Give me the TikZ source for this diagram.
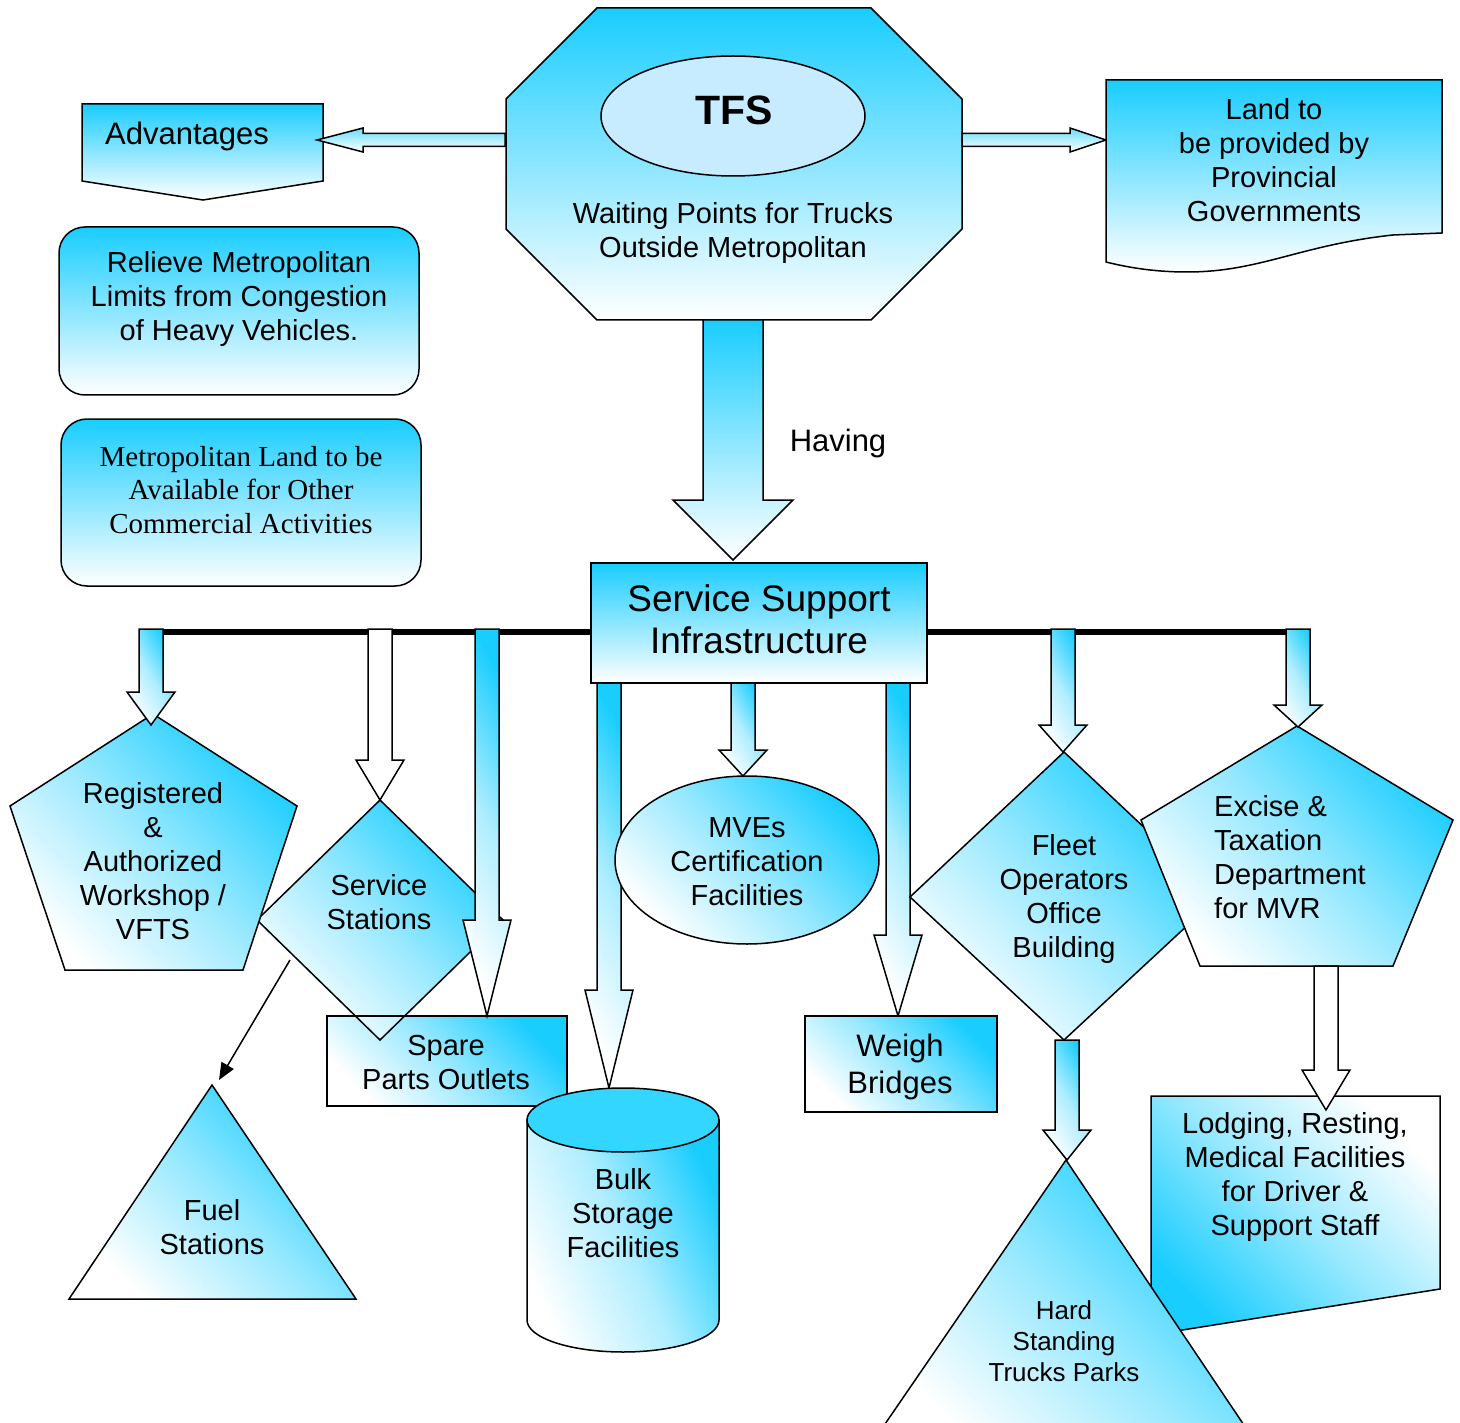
\documentclass[tikz,border=0pt]{standalone}
\usepackage{fontspec}
\setmainfont{Liberation Sans}
\newfontfamily\serifx{Liberation Serif}
\usetikzlibrary{arrows.meta}
\definecolor{cy}{RGB}{25,205,255}
\definecolor{cylight}{RGB}{200,236,255}
\definecolor{cytop}{RGB}{50,214,255}
\tikzset{
  shp/.style={draw=black, line width=1.5pt, line join=miter},
  vgrad/.style={top color=cy, bottom color=white},
  dgrad/.style={top color=cy, bottom color=white, middle color=cy!45, shading angle=-45},
  lgrad/.style={top color=white, bottom color=cy, middle color=cy!45, shading angle=-45},
  agrad/.style={top color=cy, bottom color=white, middle color=cy!35, shading angle=-60},
  hgrad/.style={top color=cy!65, bottom color=white},
  cgrad/.style={top color=cy, bottom color=white, middle color=cy!35, shading angle=-65},
  wfill/.style={fill=white},
  txt/.style={font=\fontsize{29}{34}\selectfont, align=center, inner sep=0pt},
}
\newcommand\vbarrowx[6]{% style, x, ytop, yhead, ytip, shaft half
  \path[shp,#1] ({#2-#6},#3) -- ({#2+#6},#3) -- ({#2+#6},#4) -- ({#2+2*#6},#4) -- (#2,#5)
    -- ({#2-2*#6},#4) -- ({#2-#6},#4) -- cycle;}
\newcommand\hbarrowx[5]{% style, xstart, xhead, xtip, y
  \path[shp,#1] (#2,{#5-6.5}) -- (#3,{#5-6.5}) -- (#3,{#5-12}) -- (#4,#5) -- (#3,{#5+12})
    -- (#3,{#5+6.5}) -- (#2,{#5+6.5}) -- cycle;}
\begin{document}
\begin{tikzpicture}[x=1pt,y=-1pt]
\clip (0,0) rectangle (1460,1423);
\fill[white] (0,0) rectangle (1460,1423);

% thick bus line
\coordinate (busL) at (151,632);
\coordinate (busR) at (1308,632);
\draw[line width=6.5pt] (busL) -- (busR);

% Advantages
\path[shp,vgrad] (82,104) -- (323,104) -- (323,181) -- (203,200) -- (82,181) -- cycle;
\node[txt,font=\fontsize{31}{36}\selectfont] (adv) at (187,136) {Advantages};

% TFS octagon
\path[shp,vgrad] (597,8) -- (871,8) -- (962,99) -- (962,229) -- (871,320) -- (597,320) -- (506,229) -- (506,99) -- cycle;
\path[shp,fill=cylight] (733,116) ellipse [x radius=132, y radius=60];
\node[inner sep=0pt,font=\fontsize{41}{44}\selectfont\bfseries] (tfs) at (734,110) {TFS};
\node[txt] (wait) at (733,233) {Waiting Points for Trucks\\Outside Metropolitan};

% horizontal arrows
\hbarrowx{hgrad}{505}{363}{317}{140}
\hbarrowx{hgrad}{962}{1070}{1106}{140}

% Land document
\path[shp,vgrad] (1106,80) -- (1442,80) -- (1442,233) -- (1393,235)
  .. controls (1300,245) and (1260,272) .. (1187,272)
  .. controls (1150,272) and (1122,266) .. (1106,262) -- cycle;
\node[txt] (land) at (1274,160) {Land to\\be provided by\\Provincial\\Governments};

% Relieve box
\path[shp,vgrad,rounded corners=26pt] (59,227) rectangle (419,395);
\node[txt] (rel) at (239,299) {Relieve Metropolitan\\Limits from Congestion\\of Heavy Vehicles.};

% Metropolitan land box
\path[shp,vgrad,rounded corners=26pt] (61,419) rectangle (421,586);
\node[txt,font=\serifx\fontsize{29}{33.5}\selectfont] (metro) at (241,490) {Metropolitan Land to be\\Available for Other\\Commercial Activities};

% Having arrow
\vbarrowx{vgrad}{733}{320}{500}{560}{30}
\node[inner sep=0pt,font=\fontsize{31}{36}\selectfont] (having) at (838,443) {Having};

% Service support box
\path[shp,vgrad] (591,563) rectangle (927,683);
\node[txt,font=\fontsize{37}{42}\selectfont] (ssi) at (759,619) {Service Support\\Infrastructure};

% Spare parts box + service stations diamond
\path[shp,dgrad] (327,1016) rectangle (567,1106);
\path[shp,dgrad] (380,800) -- (503,920) -- (380,1040) -- (257,920) -- cycle;
\draw[line width=1.5pt] (327,1016) -- (567,1016);
\node[txt] (spare) at (446,1063) {Spare\\Parts Outlets};
\node[txt] (ss) at (379,902) {Service\\Stations};

% Registered pentagon
\path[shp,dgrad] (153,714) -- (297,806) -- (243,970) -- (65,970) -- (10,806) -- cycle;
\node[txt] (reg) at (153,861) {Registered\\\&\\Authorized\\Workshop /\\VFTS};

\vbarrowx{agrad}{151}{629}{692}{725}{12}
\vbarrowx{wfill}{380}{629}{760}{800}{12}
\vbarrowx{agrad}{487}{629}{920}{1016}{12}

% Fuel
\path[shp,dgrad] (212,1085) -- (356,1299) -- (69,1299) -- cycle;
\node[txt] (fuel) at (212,1227) {Fuel\\Stations};
\coordinate (fs) at (290,960);
\coordinate (fe) at (219,1080);
\draw[line width=1.5pt,-{Triangle[length=17pt,width=14pt]}] (fs) -- (fe);

% Bulk storage
\vbarrowx{agrad}{609}{683}{990}{1088}{12}
\path[shp,cgrad] (527,1120) -- (527,1320) arc[start angle=180, end angle=0, x radius=96, y radius=32] -- (719,1120) -- cycle;
\path[shp,fill=cytop] (623,1120) ellipse [x radius=96, y radius=32];
\node[txt] (bulk) at (623,1213) {Bulk\\Storage\\Facilities};

% MVEs
\path[shp,dgrad] (747,860) ellipse [x radius=132, y radius=84];
\node[txt] (mves) at (747,862) {MVEs\\Certification\\Facilities};
\vbarrowx{agrad}{743}{683}{750}{776}{12}

% Weigh bridges
\vbarrowx{agrad}{898}{683}{935}{1016}{12}
\path[shp,dgrad] (805,1016) rectangle (997,1112);
\node[txt,font=\fontsize{31}{37}\selectfont] (weigh) at (900,1067) {Weigh\\Bridges};

% Fleet diamond and Excise pentagon
\path[shp,dgrad] (1064,752) -- (1218,897) -- (1064,1040) -- (910,897) -- cycle;
\node[txt] (fleet) at (1064,899) {Fleet\\Operators\\Office\\Building};
\path[shp,dgrad] (1297,726) -- (1453,820) -- (1393,966) -- (1200,966) -- (1141,820) -- cycle;
\node[txt,align=left,anchor=west] (excise) at (1214,857) {Excise \&\\Taxation\\Department\\for MVR};
\vbarrowx{agrad}{1063}{629}{725}{752}{12}
\vbarrowx{agrad}{1298}{629}{705}{727}{12}

% Lodging
\path[shp,lgrad] (1151,1096) -- (1440,1096) -- (1440,1289) -- (1151,1335) -- cycle;
\node[txt] (lodg) at (1295,1177) {Lodging, Resting,\\Medical Facilities\\for Driver \&\\Support Staff};
\vbarrowx{wfill}{1326}{966}{1070}{1110}{12}

% Hard standing
\path[shp,dgrad] (1066,1160) -- (1256,1443) -- (872,1443) -- cycle;
\node[txt,font=\fontsize{26}{31}\selectfont] (hard) at (1064,1341) {Hard\\Standing\\Trucks Parks};
\vbarrowx{agrad}{1067}{1040}{1130}{1160}{12}
\end{tikzpicture}
\end{document}
